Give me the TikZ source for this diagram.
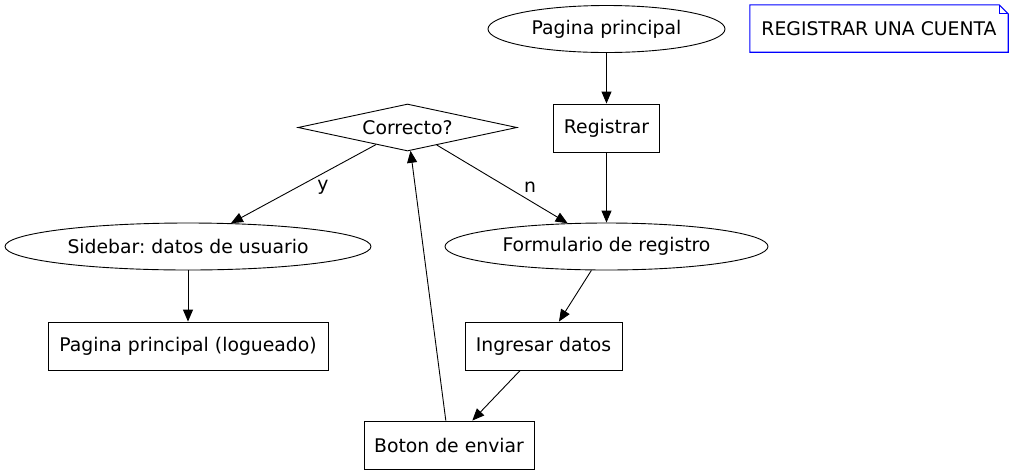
\documentclass[tikz,border=0pt]{standalone}
\usepackage{fontspec}
\setmainfont{DejaVu Sans}
\usetikzlibrary{shapes.geometric,arrows.meta}

\tikzset{
  every node/.style={font=\fontsize{18.8}{22}\selectfont,inner sep=0},
  elli/.style={draw,ellipse,line width=0.9pt},
  caja/.style={draw,rectangle,line width=0.9pt},
  flecha/.style={line width=0.9pt,-{Triangle[length=12pt,width=10pt]}}
}

\begin{document}
\frenchspacing
\begin{tikzpicture}[x=1pt,y=-1pt]
\useasboundingbox (0,0) rectangle (1013,475);
% nodos
\node[elli,minimum width=237,minimum height=47] (inicio) at (606.5,29) {Pagina principal};
\node[caja,minimum width=106,minimum height=48] (registrar) at (606.5,128) {Registrar};
\node[draw,diamond,line width=0.9pt,aspect=4.66,minimum width=219,minimum height=47] (correcto) at (407.5,127.5) {Correcto?};
\node[elli,minimum width=366,minimum height=47] (sidebar) at (188,246.5) {Sidebar: datos de usuario};
\node[elli,minimum width=323,minimum height=47] (formulario) at (606.5,246.5) {Formulario de registro};
\node[caja,minimum width=280,minimum height=48] (logueado) at (188,346) {Pagina principal (logueado)};
\node[caja,minimum width=157,minimum height=48] (ingresar) at (543.5,346) {Ingresar datos};
\node[caja,minimum width=170,minimum height=48] (boton) at (449,445) {Boton de enviar};
% nota
\node[minimum width=258,minimum height=47] (nota) at (879,28.5) {REGISTRAR UNA CUENTA};
\draw[blue,line width=1.1pt] (nota.north west) -- ([xshift=-9]nota.north east) -- ([yshift=-9]nota.north east)
  -- (nota.south east) -- (nota.south west) -- cycle;
\draw[blue,line width=1.1pt] ([xshift=-9]nota.north east) -- ([xshift=-9,yshift=-9]nota.north east) -- ([yshift=-9]nota.north east);
% flechas
\draw[flecha] (inicio) -- (registrar);
\draw[flecha] (registrar) -- (formulario);
\draw[flecha] (correcto) -- (sidebar);
\draw[flecha] (correcto) -- (formulario);
\draw[flecha] (sidebar) -- (logueado);
\draw[flecha] (formulario) -- (ingresar);
\draw[flecha] (ingresar) -- (boton);
\draw[flecha] (boton) -- (correcto);
\node (ylbl) at (323,187) {y};
\node (nlbl) at (530,187) {n};
\end{tikzpicture}
\end{document}
